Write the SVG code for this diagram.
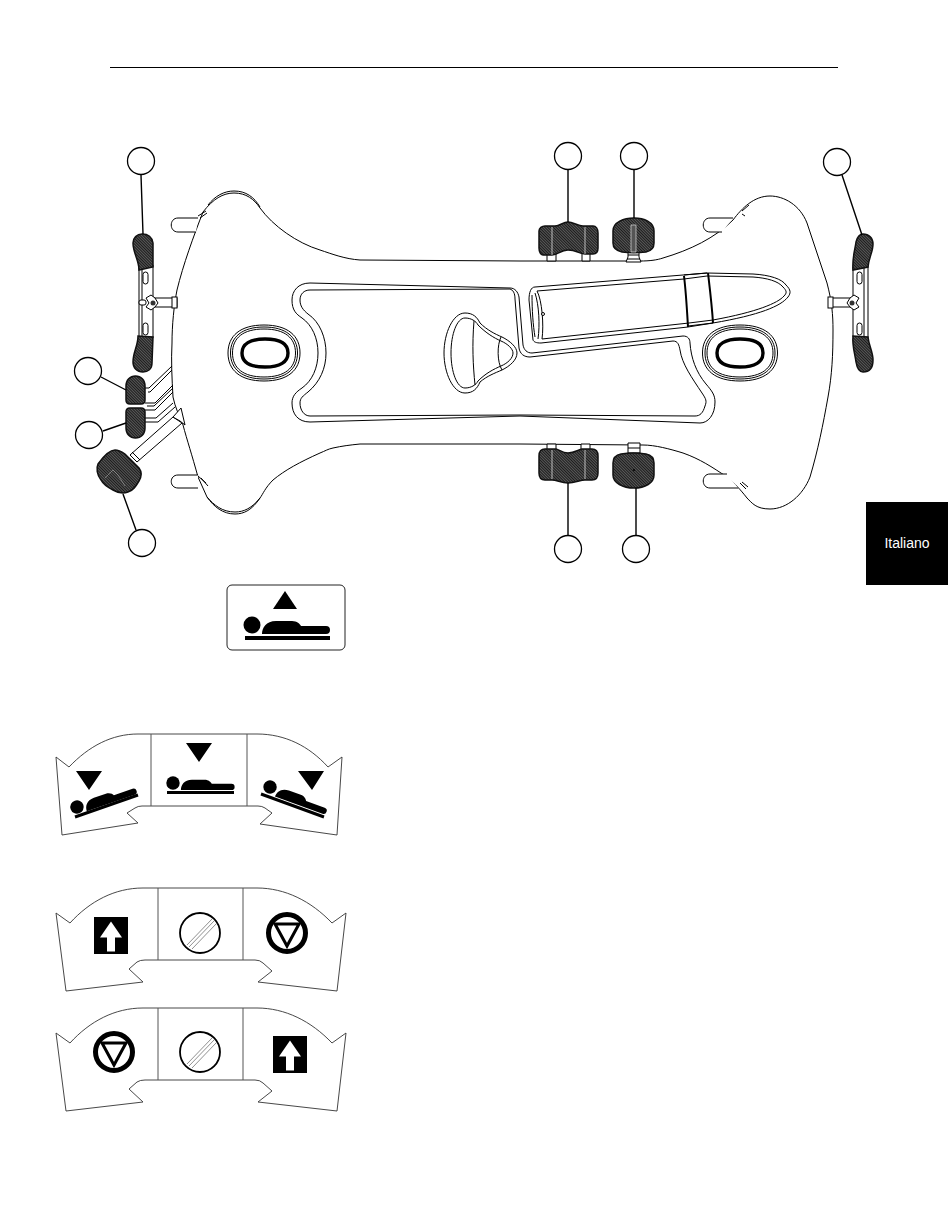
<svg xmlns="http://www.w3.org/2000/svg" width="950" height="1229" viewBox="0 0 950 1229">
<style>
.l{fill:none;stroke:#000;stroke-width:1}
.w{fill:#fff;stroke:#000;stroke-width:1}
.c{fill:#fff;stroke:#000;stroke-width:1.3}
.ld{fill:none;stroke:#000;stroke-width:1.4}
.h{fill:url(#hatch);stroke:#111;stroke-width:1.5}
.k{fill:#000}
.p{fill:#fff;stroke:#333;stroke-width:.9;stroke-linejoin:miter}
.d{fill:none;stroke:#555;stroke-width:1}
.s{fill:none;stroke:#000;stroke-width:5}
.oi{fill:none;stroke:#000;stroke-width:3.400}
</style>
<defs>
<pattern id="hatch" width="2" height="2" patternUnits="userSpaceOnUse" patternTransform="rotate(45)">
<rect width="2" height="2" fill="#1c1c1c"/><rect width="2" height=".55" fill="#8a8a8a"/>
</pattern>
<g id="person"><circle cx="0" cy="0" r="8.500"/><path d="M10 9C10 3 14-4 24-4H40C45-4 48-1 49 1H74a4 4 0 0 1 0 8Z"/></g>
<path id="ovalInner" d="M-23 0C-23-9-15-14 0-14S23-9 23 0 15 14 0 14-23 9-23 0Z"/>
<g id="stop"><circle r="18.500" class="s"/><path d="M-12-9H12L0 13Z" fill="none" stroke="#000" stroke-width="3"/></g>
<g id="up"><rect x="-17" y="-18.500" width="34" height="37" class="k"/><path d="M0-14 11 2H4V16H-4V2H-11Z" fill="#fff"/></g>
<g id="blank"><circle r="20" fill="#fff" stroke="#000" stroke-width="1.800"/><path d="M-13 12 12-14M-11 14 14-12M-8 16 16-9" fill="none" stroke="#444" stroke-width=".6"/></g>
<path id="panelB" d="M56 913 70 923C90 901 115 888 143 888H257C285 888 311 901 332 923L346 913 337 991 258 982 272 971 263 963Q260 960 255 960H145Q140 960 137 962L129 969 143 982 66 991Z"/>
</defs>
<rect width="950" height="1229" fill="#fff"/>
<path id="rule" d="M110 67.500H838" stroke="#000" stroke-width="1.200"/>
<g id="tab"><rect x="866" y="502" width="82" height="83" class="k"/><text x="907" y="547.500" font-family="'Liberation Sans',Arial,sans-serif" font-size="14" fill="#fff" text-anchor="middle">Italiano</text></g>

<g id="body">
<path class="w" d="M203 212C213 199 223 193 234 193 246 193 254 199 260 208 273 226 297 243 320 250 332 254 345 259 360 260L520 261H640C650 261 657 260 663 258 690 250 715 238 733 220 742 208 754 196 770 196 784 196 800 205 807 223L827 283C832 302 833 315 833 330 833 355 832 375 828 397 823 425 818 450 810 477 803 495 787 509 770 509 756 509 752 503 747 498 740 489 735 484 727 477 712 467 700 459 683 453 670 449 655 445 643 445L520 444H360C350 445 342 446 333 448 328 449 325 451 320 453 300 462 285 470 273 480 265 488 263 494 260 498 252 508 244 512 235 512 222 512 214 505 207 497L198 477C192 455 187 440 183 425 179 415 175 407 173 397 172 380 171 360 172 343 172 325 174 305 177 290 183 265 194 235 203 212Z"/>
<path class="l" d="M208 205C215 196 224 191 234 191 246 191 254 197 260 207M207 497C214 507 223 514 235 514 244 514 252 510 260 498"/>
<path class="l" d="M198 216 206 211M200 218 207 213M198 476 206 483M201 478 208 486M742 211 749 205M742 214 745 216M740 483 746 489M742 482 748 487"/>
</g>

<g id="tray">
<path class="l" d="M310 283 510 288C515 288 518 292 519 297L523 345C524 350 527 353 532 353L683 336C688 336 690 339 690 343 691 358 696 372 706 384 712 391 715 395 715 402 715 415 708 423 700 423L520 416 310 422C298 422 292 414 292 403 292 396 296 392 302 388 312 381 318 368 318 353 318 338 312 325 302 318 296 314 292 310 292 300 292 291 298 283 310 283Z"/>
<path class="l" stroke-width="1.300" d="M310 290 510 289C513 290 515 293 515 299L519 348C520 354 524 357 530 357L673 341C678 341 679 345 680 350 682 364 692 378 702 393 706 399 707 401 705 406 703 413 700 416 695 416L520 415 310 416C304 416 300 410 300 403 300 398 303 396 308 392 320 382 326 368 326 353 326 338 320 322 308 314 303 310 300 306 300 300 300 294 304 290 310 290Z"/>
</g>

<g id="bullet">
<path class="l" d="M535 287 683 275 707 273 753 274C770 275 782 279 786 285 791 290 791 293 788 297 781 306 760 315 713 323L688 327 541 343C536 343 534 342 533 340L529 300C529 292 531 287 535 287Z"/>
<path class="l" d="M537 291 684 279 707 276 753 277C767 278 778 281 783 287 787 291 787 293 784 296 778 303 757 312 713 320L689 323 542 339"/>
<path class="l" d="M537 291C542 300 544 325 542 339M535 293C539 305 540 325 538 339M532 295C532 310 533 325 535 337"/>
<circle cx="543" cy="314" r="1.500" class="w"/>
<path d="M684 276C686 292 687 310 688 327M708 273C710 290 712 306 713 323" fill="none" stroke="#000" stroke-width="2"/>
<path class="l" d="M684 275 707 273M688 326 713 323"/>
</g>

<g id="grip">
<path class="l" d="M465 313C473 313 477 317 480 323 487 330 495 334 502 337 510 341 517 347 517 353 517 360 510 366 502 370 495 373 487 376 480 382 477 389 473 393 465 393 453 393 444 373 444 353 444 333 453 313 465 313Z"/>
<path class="l" d="M465 318C471 318 476 321 478 325 486 333 494 338 501 341 508 344 513 349 513 353 513 358 508 363 501 366 494 369 486 373 478 381 476 385 471 388 465 388 457 388 451 372 451 353 451 334 457 318 465 318Z"/>
<path class="l" d="M474 321C472 345 473 365 475 385M501 337C497 345 497 362 502 370"/>
</g>

<g id="oval-left" transform="translate(264 353)">
<path class="l" d="M-36 0C-36-17-24-28 0-28S36-17 36 0 24 28 0 28-36 17-36 0Z"/>
<path class="l" d="M-33.500 0C-33.500-16-22-26 0-26S33.500-16 33.500 0 22 26 0 26-33.500 16-33.500 0Z"/>
<path class="l" d="M-31.500 0C-31.500-15-21-24 0-24S31.500-15 31.500 0 21 24 0 24-31.500 15-31.500 0Z"/>
<use href="#ovalInner" x="1" class="oi"/>
</g>
<g id="oval-right" transform="translate(740 353)">
<path class="l" d="M-37.500 0C-37.500-17-25-28 0-28S37.500-17 37.500 0 25 28 0 28-37.500 17-37.500 0Z"/>
<path class="l" d="M-35 0C-35-16-23-26 0-26S35-16 35 0 23 26 0 26-35 16-35 0Z"/>
<path class="l" d="M-33 0C-33-15-22-24 0-24S33-15 33 0 22 24 0 24-33 15-33 0Z"/>
<use href="#ovalInner" class="oi"/>
</g>

<g id="pins">
<path class="w" d="M198 218H178C169 218 169 232 178 232H196"/>
<path class="w" d="M198 475H178C169 475 169 488 178 488H198"/>
<path class="w" d="M733 218H710C701 218 701 232 710 232H722"/>
<path class="w" d="M727 474H710C701 474 701 488 710 488H738"/>
</g>

<g id="handle-left">
<path class="l" d="M139 267V337M142 267V337M153 265V338"/>
<rect x="143" y="272" width="5" height="12" rx="2.500" class="w"/>
<rect x="143" y="323" width="5" height="12" rx="2.500" class="w"/>
<rect x="139" y="300" width="7" height="5" rx="2" class="w"/>
<rect x="155" y="298" width="22" height="9" class="w"/><rect x="172" y="297" width="5" height="11" class="w"/>
<path class="w" d="M146 298 151 295 155 298 158 303 155 307 151 310 146 307 149 303Z"/><circle cx="153" cy="303" r="2.500" fill="#333"/>
<path class="h" d="M142 234C148 234 152 237 153 243V267L139 270C139 260 133 253 133 243 133 238 137 234 142 234Z"/>
<path class="h" d="M143 372C148 372 152 369 152 363L153 337 138 336C138 346 133 352 133 362 133 368 137 372 143 372Z"/>
</g>

<g id="handle-right">
<path class="l" d="M853 267V337M864 267V337M868 265V338"/>
<rect x="857" y="272" width="5" height="12" rx="2.500" class="w"/>
<rect x="857" y="323" width="5" height="12" rx="2.500" class="w"/>
<rect x="829" y="298" width="22" height="9" class="w"/><rect x="828" y="297" width="5" height="11" class="w"/>
<path class="w" d="M859 298 854 295 850 298 847 303 850 307 854 310 859 307 856 303Z"/><circle cx="852" cy="303" r="2.500" fill="#333"/>
<path class="h" d="M863 234C869 234 873 238 873 244 873 252 869 257 868 267L853 270C852 258 855 250 856 242 857 238 859 234 863 234Z"/>
<path class="h" d="M863 372C869 372 873 368 873 360 873 352 869 346 868 337L853 336C852 346 855 354 856 362 857 368 859 372 863 372Z"/>
</g>

<g id="pads-left">
<path class="l" d="M145 388H149L172 366M148 392H150L172 370M145 403H155L173 385M145 410H155L173 392M147 406H154L173 388M145 422H158L175 407M145 418H156L173 403"/>
<path class="h" d="M126 386C126 380 130 376 135.500 376 141 376 145 380 145 386V400C145 403 143 404 141 404H130C128 404 126 403 126 400Z"/>
<path class="h" d="M126 412C126 409 128 408 130 408H141C143 408 145 409 145 412V428C145 434 141 438 135.500 438 130 438 126 434 126 428Z"/>
</g>

<g id="pad-rocker">
<path class="w" d="M130 455 173 417 182 423 137 462Z"/><path class="l" d="M132 452 140 460"/>
<path class="w" d="M173 417 181 408 185 425 180 421Z"/>
<path class="h" d="M115 450C119 450 122 452 125 454L139 468C142 472 142 476 139 481 136 486 133 491 128 492 122 494 118 493 113 490 107 487 103 484 101 480 97 475 96 468 98 464 103 457 109 450 115 450Z"/>
<path d="M105 478 113 470 118 475M125 486 118 475" fill="none" stroke="#bbb" stroke-width=".5"/>
</g>

<g id="pads-top">
<path class="w" d="M547 254V261H556V254M582 254V261H590V254"/>
<path class="h" d="M545 226H555C560 226 563 222 568 222 573 222 578 226 583 226H593C596 226 598 229 598 233V248C598 252 596 254 593 254H585C580 254 576 250 568 250 561 250 557 255 552 255H543C541 255 539 252 539 248V231C539 228 542 226 545 226Z"/>
<path d="M552 227V255M585 227V254" stroke="#ddd" stroke-width=".8"/>
<path class="w" d="M626 262 628 257V252H639V257L641 262ZM628 255H639M627 259H640"/>
<path class="h" d="M634 218C644 218 654 222 654 231V243C654 248 651 251 646 252 638 253 629 253 622 252 617 251 613 248 613 243V231C613 222 624 218 634 218Z"/>
<path d="M631 225H636V252H631Z" fill="#555" stroke="#ddd" stroke-width=".7"/>
</g>

<g id="pads-bottom">
<path class="w" d="M547 449V444H556V449M581 449V444H590V449"/>
<path class="h" d="M545 449H556C560 450 562 453 568 453 574 453 578 450 582 449H592C596 449 598 452 598 456V473C598 477 596 480 592 480H585C580 480 575 483 568 483 561 483 557 480 552 480H545C541 480 539 477 539 473V456C539 452 541 449 545 449Z"/>
<path d="M552 450V479M585 450V479" stroke="#ddd" stroke-width=".8"/>
<path class="w" d="M628 453V443H640V453ZM628 448H640"/>
<path class="h" d="M621 454C628 453 639 453 646 454 651 455 654 458 654 463V475C654 483 645 488 634 488 623 488 613 483 613 475V463C613 458 616 455 621 454Z"/>
<circle cx="634" cy="470" r="1" fill="#000"/>
</g>

<g id="connectors">
<path class="ld" d="M141 175 143 234M101 377 126 390M103 431 126 423M123 494 136 530M568 170V222M634 170V218M842 175 862 235M568 483V535M636 488V535"/>
</g>

<g id="callouts">
<circle id="callout-1" cx="141" cy="161" r="13.500" class="c"/>
<circle id="callout-2" cx="88" cy="371" r="13.500" class="c"/>
<circle id="callout-3" cx="89" cy="435" r="13.500" class="c"/>
<circle id="callout-4" cx="142" cy="543" r="13.500" class="c"/>
<circle id="callout-5" cx="568" cy="156" r="13.500" class="c"/>
<circle id="callout-6" cx="634" cy="156" r="13.500" class="c"/>
<circle id="callout-7" cx="837" cy="162" r="13.500" class="c"/>
<circle id="callout-8" cx="568" cy="549" r="13.500" class="c"/>
<circle id="callout-9" cx="636" cy="549" r="13.500" class="c"/>
</g>

<g id="icon-raise">
<rect x="227" y="585" width="118" height="65" rx="5" fill="#fff" stroke="#222" stroke-width="1"/>
<path class="k" d="M285 591 297 609H273Z"/>
<use href="#person" transform="translate(252 625)"/>
<rect x="245" y="636" width="85" height="4" class="k"/>
</g>

<g id="panel-lower">
<path class="p" d="M56 757 69 767C89 746 112 734 138 734H257C285 734 309 746 328 767L342 757 337 835 260 824 272 813 265 808Q262 806 258 806H142Q138 806 135 808L127 813 138 823 62 835Z"/>
<path class="d" d="M151 734V806M247 734V806"/>
<path class="k" d="M76 771H102L89 790ZM186 743H212L199 762ZM298 771H324L312 790Z"/>
<use href="#person" transform="translate(173 783) scale(.79)"/>
<rect x="167" y="791" width="67" height="3" class="k"/>
<use href="#person" transform="translate(77 807) rotate(-19) scale(.79)"/>
<path d="M75 817 138 795" stroke="#000" stroke-width="3"/>
<use href="#person" transform="translate(270 787) rotate(20) scale(.79)"/>
<path d="M261 794 324 817" stroke="#000" stroke-width="3"/>
</g>

<g id="panel-a">
<use href="#panelB" class="p"/>
<path class="d" d="M158 888V960M243 888V960"/>
<use href="#up" transform="translate(111 935.500)"/>
<use href="#blank" transform="translate(200 933)"/>
<use href="#stop" transform="translate(287 933)"/>
</g>

<g id="panel-b">
<use href="#panelB" class="p" y="120"/>
<path class="d" d="M158 1008V1080M243 1008V1080"/>
<use href="#stop" transform="translate(114 1052)"/>
<use href="#blank" transform="translate(200 1052)"/>
<use href="#up" transform="translate(290 1054.500)"/>
</g>
</svg>
